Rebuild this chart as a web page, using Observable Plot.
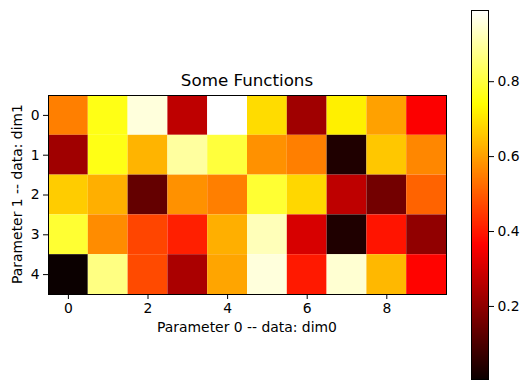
<!DOCTYPE html>
<html>
<head>
<meta charset="utf-8">
<script src="https://cdn.jsdelivr.net/npm/d3@7"></script>
<script src="https://cdn.jsdelivr.net/npm/@observablehq/plot@0.6"></script>
<style>
  html, body { margin: 0; padding: 0; background: #fff; }
  #fig { position: relative; width: 529px; height: 389px; font-family: "DejaVu Sans", sans-serif; color: #000; }
  #fig > * { position: absolute; }
  .lbl { font-size: 13.9px; white-space: nowrap; }
</style>
</head>
<body>
<div id="fig"></div>
<script>
// Data
const cols = [0, 1, 2, 3, 4, 5, 6, 7, 8, 9];
const rows = [0, 1, 2, 3, 4];
const row0 = [0.552, 0.760, 0.956, 0.269, 0.990, 0.688, 0.225, 0.718, 0.601, 0.360];
const row1 = [0.225, 0.760, 0.630, 0.896, 0.799, 0.578, 0.552, 0.034, 0.658, 0.563];
const row2 = [0.665, 0.622, 0.136, 0.578, 0.552, 0.790, 0.681, 0.269, 0.159, 0.511];
const row3 = [0.790, 0.570, 0.466, 0.410, 0.622, 0.921, 0.305, 0.034, 0.394, 0.202];
const row4 = [0.005, 0.867, 0.474, 0.239, 0.608, 0.956, 0.402, 0.946, 0.636, 0.369];
const xTicks = [0, 2, 4, 6, 8];
const yTicks = [0, 1, 2, 3, 4];
const cbTicks = [0.2, 0.4, 0.6, 0.8];
const title = "Some Functions";
const xLabel = "Parameter 0 -- data: dim0";
const yLabel = "Parameter 1 -- data: dim1";

const matrix = [row0, row1, row2, row3, row4];
const cells = [];
rows.forEach((r, i) => cols.forEach((c, j) => cells.push({x: c, y: r, v: matrix[i][j]})));
const [vmin, vmax] = d3.extent(cells, d => d.v);
// matplotlib "hot" colormap as piecewise-linear RGB
const hotStops = [0, 0.365079, 0.746032, 1];
const color = {
  type: "linear",
  domain: hotStops.map(s => vmin + s * (vmax - vmin)),
  range: ["#0b0000", "#ff0000", "#ffff00", "#ffffff"],
  interpolate: "rgb"
};

const fs = 13.9;
const fig = document.getElementById("fig");

const main = Plot.plot({
  width: 460, height: 389,
  marginLeft: 48, marginRight: 14, marginTop: 95, marginBottom: 95,
  style: {fontFamily: "DejaVu Sans, sans-serif", fontSize: fs + "px", color: "#000", background: "transparent"},
  x: {type: "band", domain: cols, padding: 0, round: false},
  y: {type: "band", domain: rows, padding: 0, round: false},
  color,
  marks: [
    Plot.cell(cells, {x: "x", y: "y", fill: "v", inset: 0}),
    Plot.frame({stroke: "#000", strokeWidth: 1}),
    Plot.axisX({ticks: xTicks, tickSize: 5, tickPadding: 4, label: null, stroke: "#000", fill: "#000"}),
    Plot.axisY({ticks: yTicks, tickSize: 5, tickPadding: 4, label: null, stroke: "#000", fill: "#000"})
  ]
});
main.style.left = "0px"; main.style.top = "0px";
fig.appendChild(main);

const cb = Plot.plot({
  width: 69, height: 389,
  marginLeft: 11, marginRight: 41, marginTop: 10, marginBottom: 10,
  style: {fontFamily: "DejaVu Sans, sans-serif", fontSize: fs + "px", color: "#000", background: "transparent"},
  x: {domain: [0, 1], axis: null},
  y: {domain: [vmin, vmax]},
  color,
  marks: [
    Plot.raster({fill: (x, y) => y, x1: 0, x2: 1, y1: vmin, y2: vmax, width: 1, height: 300, imageRendering: "auto"}),
    Plot.frame({stroke: "#000", strokeWidth: 1}),
    Plot.axisY({anchor: "right", ticks: cbTicks, tickFormat: d3.format(".1f"), tickSize: 5, tickPadding: 4, label: null, stroke: "#000", fill: "#000"})
  ]
});
cb.style.left = "460px"; cb.style.top = "0px";
fig.appendChild(cb);

function addText(txt, css) {
  const d = document.createElement("div");
  d.className = "lbl";
  d.textContent = txt;
  Object.assign(d.style, css);
  fig.appendChild(d);
  return d;
}
addText(title, {left: "247px", top: "80px", fontSize: "16.7px", transform: "translate(-50%, -50%)"});
addText(xLabel, {left: "247px", top: "327px", transform: "translate(-50%, -50%)"});
addText(yLabel, {left: "17px", top: "194px", transform: "translate(-50%, -50%) rotate(-90deg)"});
</script>
</body>
</html>
